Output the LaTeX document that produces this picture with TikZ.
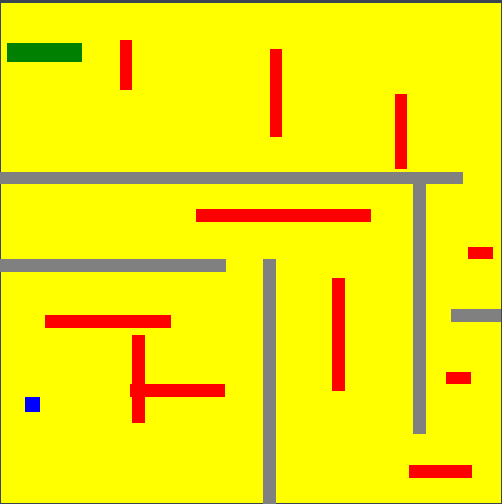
\documentclass[tikz,border=0pt]{standalone}
\definecolor{frame}{HTML}{3A4550}
\definecolor{bg}{HTML}{FFFF00}
\definecolor{wallc}{HTML}{808080}
\definecolor{obst}{HTML}{FF0000}
\definecolor{goal}{HTML}{008000}
\definecolor{agent}{HTML}{0000FF}
\begin{document}
\begin{tikzpicture}[x=1pt,y=-1pt,
  wall/.style={fill=wallc},
  obstacle/.style={fill=obst},
  goalbox/.style={fill=goal},
  agentbox/.style={fill=agent}]
\useasboundingbox (0,0) rectangle (502,504);
\fill[frame] (0,0) rectangle (502,504);
\fill[bg] (1,2.5) rectangle (501,503);
% walls
\fill[wall] (0,172) rectangle (463,184);
\fill[wall] (413,184) rectangle (426,434);
\fill[wall] (0,259) rectangle (226,272);
\fill[wall] (263,259) rectangle (276,504);
\fill[wall] (451,309) rectangle (501,322);
% obstacles
\fill[obstacle] (120,40) rectangle (132,90);
\fill[obstacle] (270,49) rectangle (282,137);
\fill[obstacle] (395,94) rectangle (407,169);
\fill[obstacle] (196,209) rectangle (371,222);
\fill[obstacle] (468,247) rectangle (493,259);
\fill[obstacle] (332,278) rectangle (345,391);
\fill[obstacle] (45,315) rectangle (171,328);
\fill[obstacle] (132,335) rectangle (145,423);
\fill[obstacle] (130,384) rectangle (225,397);
\fill[obstacle] (446,372) rectangle (471,384);
\fill[obstacle] (409,465) rectangle (472,478);
% goal and agent
\fill[goalbox] (7,43) rectangle (82,62);
\fill[agentbox] (25,397) rectangle (40,412);
\end{tikzpicture}
\end{document}
